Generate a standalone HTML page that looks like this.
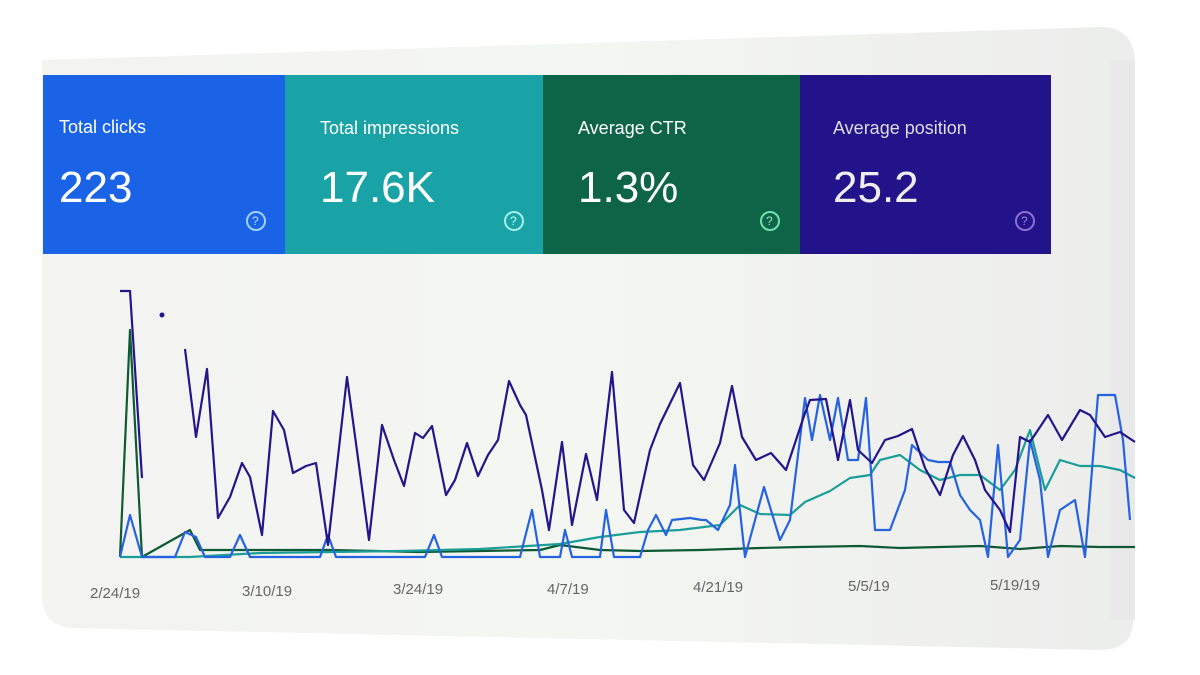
<!DOCTYPE html>
<html><head><meta charset="utf-8"><style>
html,body{margin:0;padding:0;background:#fff;}
svg{display:block;font-family:"Liberation Sans",sans-serif;}
</style></head><body>
<svg width="1200" height="675" viewBox="0 0 1200 675">
<defs>
<linearGradient id="bg" x1="0" y1="0" x2="1" y2="0">
<stop offset="0" stop-color="#f3f4f2"/><stop offset="0.5" stop-color="#f4f6f1"/><stop offset="1" stop-color="#ecedec"/>
</linearGradient>
</defs>
<path d="M42,60 L1100,27 Q1133,27 1135,60 L1133,625 Q1130,650 1100,650 L70,628 Q45,625 42,600 Z" fill="url(#bg)"/>
<rect x="1110" y="60" width="25" height="560" fill="#e9e9e9"/>
<!-- tiles -->
<rect x="43" y="75" width="243" height="179" fill="#1a62e6"/>
<rect x="285" y="75" width="259" height="179" fill="#1aa3a6"/>
<rect x="543" y="75" width="258" height="179" fill="#0d6446"/>
<rect x="800" y="75" width="251" height="179" fill="#23138a"/>
<g fill="#fff">
<text x="59" y="133" font-size="18">Total clicks</text>
<text x="59" y="202" font-size="44">223</text>
<text x="320" y="134" font-size="18">Total impressions</text>
<text x="320" y="202" font-size="44">17.6K</text>
<text x="578" y="134" font-size="18">Average CTR</text>
<text x="578" y="202" font-size="44">1.3%</text>
<text x="833" y="134" font-size="18" fill="#ddd">Average position</text>
<text x="833" y="202" font-size="44" fill="#eee">25.2</text>
</g>
<g fill="none" stroke-width="2">
<circle cx="256" cy="221" r="9" stroke="#9fd0ff"/>
<circle cx="514" cy="221" r="9" stroke="#9ff0e8"/>
<circle cx="770" cy="221" r="9" stroke="#6fe0b0"/>
<circle cx="1025" cy="221" r="9" stroke="#8a70d0"/>
</g>
<g font-size="12" fill="#cfe">
<text x="252" y="225" fill="#bfe0ff">?</text><text x="510" y="225" fill="#bff">?</text><text x="766" y="225" fill="#8fe8c0">?</text><text x="1021" y="225" fill="#9a80d8">?</text>
</g>
<!-- chart -->
<g fill="none" stroke-width="2.2" stroke-linejoin="round">
<polyline stroke="#0e5a35" points="120,557 130,330 142,557 190,530 200,550 330,550 420,552 540,550 560,545 600,550 640,551 700,550 760,548 800,547 860,546 900,548 940,547 980,546 1020,549 1060,546 1100,547 1135,547"/>
<polyline stroke="#1b9e98" points="120,557 190,557 260,553 330,552 400,551 480,549 560,544 600,537 640,532 680,530 720,525 740,505 760,514 790,515 805,502 830,491 850,478 870,475 880,460 900,455 920,470 940,480 960,475 980,475 1000,490 1015,470 1030,430 1045,490 1060,460 1080,466 1100,466 1120,470 1135,478"/>
<polyline stroke="#2563e0" points="120,557 130,515 142,557 175,557 185,532 196,537 205,557 230,557 240,535 250,557 320,557 328,535 336,557 425,557 434,535 442,557 520,557 532,510 540,557 560,557 565,530 572,557 600,557 606,510 614,557 640,557 648,530 656,515 666,535 672,520 690,518 702,520 706,520 718,530 730,505 735,465 745,557 764,487 780,540 790,520 798,455 805,398 812,440 820,395 830,440 838,398 848,460 858,460 866,398 875,530 890,530 905,490 912,445 928,460 938,462 950,462 960,495 970,510 980,520 988,557 998,445 1008,557 1020,540 1030,440 1040,480 1048,557 1060,510 1075,500 1085,557 1098,395 1115,395 1123,440 1130,520"/>
<polyline stroke="#24168a" points="120,291 130,291 142,478"/>
<polyline stroke="#24168a" points="185,349 196,437 207,369 218,518 230,497 242,463 250,477 262,535 273,411 284,430 293,473 306,466 316,463 328,545 347,377 360,473 369,540 382,425 394,460 404,486 415,433 423,438 432,426 446,495 455,480 467,443 478,476 488,455 498,440 509,381 520,405 526,415 542,490 549,530 562,442 572,525 586,454 597,500 612,372 624,510 634,523 650,450 660,424 680,383 693,465 704,480 720,443 732,386 742,437 756,460 771,453 786,470 804,416 810,400 826,399 838,460 850,400 858,450 872,463 885,440 898,436 912,429 925,468 940,495 953,455 963,436 975,460 985,490 1000,510 1010,532 1020,437 1030,442 1048,415 1062,440 1080,410 1090,415 1105,437 1120,432 1135,442"/>
</g>
<circle cx="162" cy="315" r="2.5" fill="#24168a"/>
<g font-size="15" fill="#666">
<text x="90" y="598">2/24/19</text>
<text x="242" y="596">3/10/19</text>
<text x="393" y="594">3/24/19</text>
<text x="547" y="594">4/7/19</text>
<text x="693" y="592">4/21/19</text>
<text x="848" y="591">5/5/19</text>
<text x="990" y="590">5/19/19</text>
</g>
</svg>
</body></html>
